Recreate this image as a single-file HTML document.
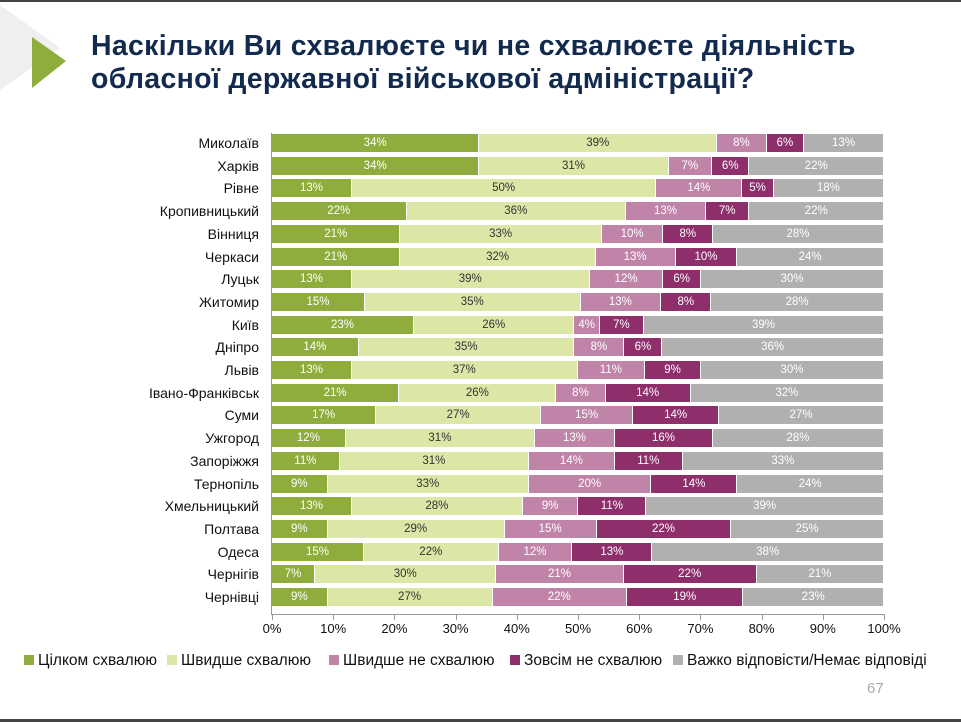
<!DOCTYPE html><html><head><meta charset="utf-8"><style>
body{margin:0;width:961px;height:722px;background:#fff;position:relative;overflow:hidden;font-family:"Liberation Sans",sans-serif}
.t{position:absolute;left:91px;top:30px;font-size:28.5px;font-weight:bold;color:#112a4e;line-height:33px;letter-spacing:0.3px}
.row{position:absolute;left:272px;width:612px;height:18px;display:flex}
.row div{height:18px;color:#fff;font-size:11.5px;line-height:18px;text-align:center;overflow:hidden;box-sizing:border-box;border-right:1px solid #fff}
.lab{position:absolute;right:702px;font-size:14px;color:#111;line-height:18px;white-space:nowrap}
.c1{background:#8fad3c}.c2{background:#dce6a6;color:#333!important}.c3{background:#bf84a8}.c4{background:#8e2f6b}.c5{background:#b0b0b0}
.tick{position:absolute;top:614px;width:1px;height:6px;background:#999}
.tl{position:absolute;top:621px;font-size:13px;color:#111;width:50px;text-align:center}
.lg{position:absolute;top:652px;font-size:15.5px;color:#111;white-space:nowrap}
.lg span{display:inline-block;width:10px;height:10px;margin-right:4px;vertical-align:0}
</style></head><body>
<div style="position:absolute;left:0;top:0;width:961px;height:2px;background:#444"></div>
<div style="position:absolute;left:0;top:719px;width:961px;height:3px;background:#444"></div>
<svg style="position:absolute;left:0;top:0" width="70" height="100"><polygon points="0,5 60,48 0,90" fill="#efefef"/><polygon points="32,37 66,61 32,88" fill="#8fad3c"/></svg>
<div class="t">Наскільки Ви схвалюєте чи не схвалюєте діяльність<br>обласної державної військової адміністрації?</div>
<div style="position:absolute;left:271px;top:133px;width:1px;height:482px;background:#999"></div>
<div style="position:absolute;left:271px;top:614px;width:614px;height:1px;background:#999"></div>
<div id="c"></div>
<script>
var d=[["Миколаїв",34,39,8,6,13],["Харків",34,31,7,6,22],["Рівне",13,50,14,5,18],["Кропивницький",22,36,13,7,22],["Вінниця",21,33,10,8,28],["Черкаси",21,32,13,10,24],["Луцьк",13,39,12,6,30],["Житомир",15,35,13,8,28],["Київ",23,26,4,7,39],["Дніпро",14,35,8,6,36],["Львів",13,37,11,9,30],["Івано-Франківськ",21,26,8,14,32],["Суми",17,27,15,14,27],["Ужгород",12,31,13,16,28],["Запоріжжя",11,31,14,11,33],["Тернопіль",9,33,20,14,24],["Хмельницький",13,28,9,11,39],["Полтава",9,29,15,22,25],["Одеса",15,22,12,13,38],["Чернігів",7,30,21,22,21],["Чернівці",9,27,22,19,23]];
var h="";
d.forEach(function(r,i){var y=134+i*22.7;h+='<div class="lab" style="top:'+y+'px">'+r[0]+'</div><div class="row" style="top:'+y+'px">';
for(var k=1;k<6;k++)h+='<div class="c'+k+'" style="flex:'+r[k]+' 1 0">'+r[k]+'%</div>';h+='</div>';});
for(var p=0;p<=10;p++){var x=272+p*61.2;h+='<div class="tick" style="left:'+x+'px"></div><div class="tl" style="left:'+(x-25)+'px">'+(p*10)+'%</div>';}
document.getElementById("c").innerHTML=h;
</script>
<div class="lg" style="left:24px"><span class="c1"></span>Цілком схвалюю</div>
<div class="lg" style="left:167px"><span class="c2"></span>Швидше схвалюю</div>
<div class="lg" style="left:329px"><span class="c3"></span>Швидше не схвалюю</div>
<div class="lg" style="left:510px"><span class="c4"></span>Зовсім не схвалюю</div>
<div class="lg" style="left:673px"><span class="c5"></span>Важко відповісти/Немає відповіді</div>
<div style="position:absolute;left:867px;top:680px;font-size:15px;color:#aaa">67</div>
</body></html>
